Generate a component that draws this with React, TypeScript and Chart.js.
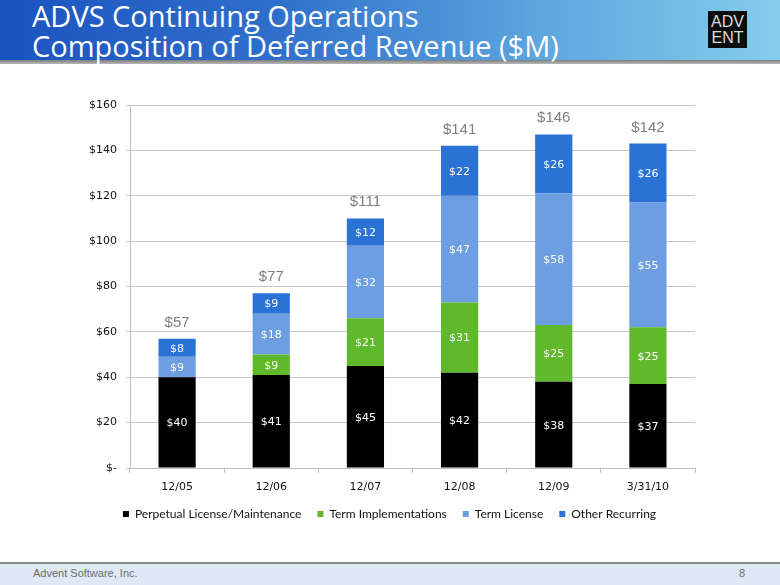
import React, { useEffect, useRef } from "react";
import { Chart, registerables } from "chart.js";

Chart.register(...registerables);

const categories = ["12/05", "12/06", "12/07", "12/08", "12/09", "3/31/10"];
const perpetual = [40, 41, 45, 42, 38, 37];
const termImpl = [0, 9, 21, 31, 25, 25];
const termLicense = [9, 18, 32, 47, 58, 55];
const otherRecurring = [8, 9, 12, 22, 26, 26];
const totals = [57, 77, 111, 141, 146, 142];
const yTicks = [0, 20, 40, 60, 80, 100, 120, 140, 160];

const seriesNames = ["Perpetual License/Maintenance", "Term Implementations", "Term License", "Other Recurring"];
const seriesColors = ["#000000", "#5fb92b", "#6d9ee2", "#2a72d5"];

const LABEL_FONT = "'DejaVu Sans', Verdana, sans-serif";

const labelsPlugin = {
  id: "segmentLabels",
  afterDatasetsDraw(chart: any) {
    const ctx = chart.ctx;
    ctx.save();
    ctx.textAlign = "center";
    ctx.textBaseline = "middle";
    ctx.fillStyle = "#ffffff";
    ctx.font = `11px ${LABEL_FONT}`;
    chart.data.datasets.forEach((ds: any, di: number) => {
      const meta = chart.getDatasetMeta(di);
      meta.data.forEach((bar: any, i: number) => {
        const v = ds.data[i];
        if (!v) return;
        const y = (bar.y + bar.base) / 2;
        ctx.fillText("$" + v, bar.x, y + 1);
      });
    });
    const last = chart.getDatasetMeta(chart.data.datasets.length - 1);
    ctx.fillStyle = "#7f7f7f";
    ctx.font = "15px 'Liberation Sans', Arial, sans-serif";
    ctx.textBaseline = "alphabetic";
    last.data.forEach((bar: any, i: number) => {
      ctx.fillText("$" + totals[i], bar.x, bar.y - 12);
    });
    ctx.restore();
  },
};

export default function App() {
  const ref = useRef<HTMLCanvasElement>(null);
  useEffect(() => {
    if (!ref.current) return;
    const data = [perpetual, termImpl, termLicense, otherRecurring];
    const chart = new Chart(ref.current, {
      type: "bar",
      data: {
        labels: categories,
        datasets: data.map((d, i) => ({
          label: seriesNames[i],
          data: d,
          backgroundColor: seriesColors[i],
          borderWidth: 0,
          barPercentage: 0.395,
          categoryPercentage: 1,
        })),
      },
      options: {
        animation: false,
        responsive: true,
        maintainAspectRatio: false,
        layout: { padding: { top: 20, right: 20, left: 4, bottom: 0 } },
        plugins: {
          tooltip: { enabled: false },
          legend: {
            position: "bottom",
            labels: {
              boxWidth: 6,
              boxHeight: 6,
              padding: 16,
              color: "#111111",
              font: { size: 12, family: "Lato, 'Liberation Sans', sans-serif" },
            },
          },
        },
        scales: {
          x: {
            stacked: true,
            offset: true,
            grid: {
              offset: true,
              drawOnChartArea: false,
              drawTicks: true,
              tickLength: 5,
              color: "#bfbfbf",
            },
            border: { color: "#bfbfbf" },
            ticks: { color: "#111111", font: { size: 11, family: LABEL_FONT }, padding: 8 },
            afterFit(scale: any) {
              scale.height = 24;
            },
          },
          y: {
            stacked: true,
            min: 0,
            max: 160,
            afterBuildTicks(scale: any) {
              scale.ticks = yTicks.map((v) => ({ value: v }));
            },
            ticks: {
              color: "#111111",
              font: { size: 11, family: LABEL_FONT },
              padding: 9,
              callback: (v: any) => (Number(v) === 0 ? "$-" : "$" + v),
            },
            grid: { color: "#c8c8c8", tickLength: 4 },
            border: { color: "#bfbfbf" },
            afterFit(scale: any) {
              scale.width = 46;
            },
          },
        },
      },
      plugins: [labelsPlugin],
    });
    return () => chart.destroy();
  }, []);

  return (
    <div style={{ position: "fixed", left: 0, top: 0, width: 780, height: 585, background: "#ffffff", overflow: "hidden" }}>
      <div
        style={{
          position: "absolute",
          left: 0,
          top: 0,
          width: 780,
          height: 60,
          background: "linear-gradient(90deg, #1b53bf 0%, #2f6fcb 35%, #5ea7df 70%, #84cdec 100%)",
        }}
      />
      <div style={{ position: "absolute", left: 0, top: 60, width: 780, height: 4, background: "linear-gradient(180deg,#7d7d7d,#b8b8b8)" }} />
      <div
        style={{
          position: "absolute",
          left: 32,
          top: 1,
          color: "#ffffff",
          fontFamily: "'Open Sans', 'Liberation Sans', sans-serif",
          fontSize: 29,
          lineHeight: "30px",
          whiteSpace: "nowrap",
        }}
      >
        <div>ADVS Continuing Operations</div>
        <div>Composition of Deferred Revenue ($M)</div>
      </div>
      <div
        style={{
          position: "absolute",
          left: 708,
          top: 11,
          width: 39,
          height: 37,
          background: "#0d0d0d",
          color: "#dcdcdc",
          fontFamily: "'Liberation Sans Narrow', 'Liberation Sans', sans-serif",
          fontSize: 16,
          lineHeight: "16px",
          textAlign: "center",
          paddingTop: 3,
          boxSizing: "border-box",
          fontWeight: 300,
        }}
      >
        <div>ADV</div>
        <div>ENT</div>
      </div>
      <div style={{ position: "absolute", left: 80, top: 85, width: 635, height: 445 }}>
        <canvas ref={ref} />
      </div>
      <div style={{ position: "absolute", left: 0, top: 562, width: 780, height: 2, background: "#8a8a8a" }} />
      <div style={{ position: "absolute", left: 0, top: 564, width: 780, height: 21, background: "#dfe9f6" }} />
      <div
        style={{
          position: "absolute",
          left: 33,
          top: 567,
          fontFamily: "'Liberation Sans', Arial, sans-serif",
          fontSize: 11,
          color: "#6b6b6b",
        }}
      >
        Advent Software, Inc.
      </div>
      <div
        style={{
          position: "absolute",
          left: 739,
          top: 567,
          fontFamily: "'Liberation Sans', Arial, sans-serif",
          fontSize: 11,
          color: "#6b6b6b",
        }}
      >
        8
      </div>
    </div>
  );
}
